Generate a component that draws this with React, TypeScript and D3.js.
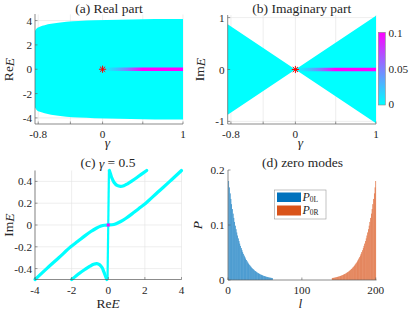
import React from "react";
import * as d3 from "d3";

// ---------- data ----------
// (a) real-part envelope (upper boundary of Re E vs gamma; lower is mirror)
const gammaA = [-0.84, -0.82, -0.78, -0.72, -0.64, -0.55, -0.45, -0.3, -0.1, 0.2, 0.5, 0.8, 1];
const reMax = [3.15, 3.35, 3.5, 3.62, 3.73, 3.82, 3.9, 3.97, 4.02, 4.07, 4.1, 4.12, 4.13];
// (b) imaginary-part envelope
const gammaB = [-0.84, 0, 1];
const imMax = [0.87, 0, 1.035];
// zero-mode line colour values along gamma
const lineGamma = [0, 0.1, 0.2, 0.3, 0.4, 0.5, 1];
const lineP = [0, 0.012, 0.03, 0.05, 0.075, 0.1, 0.1];
const cbTicks = [0, 0.05, 0.1];
const cbTickLabels = ["0", "0.05", "0.1"];
// x ticks (a), (b)
const gammaTicks = [-0.8, -0.4, 0, 0.5, 1];
const gammaTickLabels = ["-0.8", "", "0", "", "1"];
const reTicks = [-4, -2, 0, 2, 4];
const imTicksB = [-1, 0, 1];
// (c) gamma = 0.5 spectrum branches [ReE, ImE]
const mainRe = [-4.0, -3.36, -2.7, -2.05, -1.66, -1.28, -0.95, -0.655, -0.394, -0.21, 0, 0.21, 0.394, 0.655, 0.95, 1.28, 1.66, 2.05, 2.7, 3.36, 4.0];
const mainIm = [-0.5, -0.4, -0.3, -0.2, -0.15, -0.1, -0.06, -0.03, -0.01, -0.002, 0, 0.002, 0.01, 0.03, 0.06, 0.1, 0.15, 0.2, 0.3, 0.4, 0.5];
const upperRe = [0.06, 0.12, 0.2, 0.32, 0.48, 0.67, 0.85, 1.05, 1.3, 1.6, 2.1];
const upperIm = [0.5, 0.47, 0.43, 0.39, 0.363, 0.354, 0.36, 0.378, 0.405, 0.44, 0.5];
const lowerRe = [-0.08, -0.15, -0.24, -0.34, -0.48, -0.62, -0.8, -1.0, -1.25, -1.55, -2.0];
const lowerIm = [-0.5, -0.47, -0.43, -0.39, -0.363, -0.354, -0.36, -0.378, -0.405, -0.44, -0.5];
const vertRe = [-0.04, 0.04];
const vertIm = [-0.5, 0.5];
const reTicksC = [-4, -2, 0, 2, 4];
const imTicksC = [-0.4, -0.2, 0, 0.2, 0.4];
// (d) zero modes
const p0L = [0.18, 0.1684, 0.1575, 0.1474, 0.1379, 0.129, 0.1207, 0.1129, 0.1056, 0.0988, 0.0924, 0.0865, 0.0809, 0.0757, 0.0708, 0.0662, 0.062, 0.058, 0.0542, 0.0507, 0.0475, 0.0444, 0.0415, 0.0389, 0.0364, 0.034, 0.0318, 0.0298, 0.0279, 0.0261, 0.0244, 0.0228, 0.0213, 0.02, 0.0187, 0.0175, 0.0163, 0.0153, 0.0143, 0.0134, 0.0125, 0.0117, 0.011, 0.0102, 0.0096, 0.009, 0.0084, 0.0078, 0.0073, 0.0069, 0.0064, 0.006, 0.0056, 0.0053, 0.0049, 0.0046, 0.0043, 0.004, 0.0038, 0.0035];
const p0R = [0.0035, 0.0038, 0.004, 0.0043, 0.0046, 0.0049, 0.0053, 0.0056, 0.006, 0.0064, 0.0069, 0.0073, 0.0078, 0.0084, 0.009, 0.0096, 0.0102, 0.011, 0.0117, 0.0125, 0.0134, 0.0143, 0.0153, 0.0163, 0.0175, 0.0187, 0.02, 0.0213, 0.0228, 0.0244, 0.0261, 0.0279, 0.0298, 0.0318, 0.034, 0.0364, 0.0389, 0.0415, 0.0444, 0.0475, 0.0507, 0.0542, 0.058, 0.062, 0.0662, 0.0708, 0.0757, 0.0809, 0.0865, 0.0924, 0.0988, 0.1056, 0.1129, 0.1207, 0.129, 0.1379, 0.1474, 0.1575, 0.1684, 0.18];
const p0LStart = 1;
const p0RStart = 141;
const lTicks = [0, 100, 200];
const pTicks = [0, 0.1, 0.2];
const pTickLabels = ["0", "0.1", "0.2"];

// ---------- styles ----------
const FONT = "'Liberation Serif', 'Times New Roman', serif";
const AXIS = "#5a5a5a";
const GRID = "#e3e3e3";
const CYAN = "#00ffff";
const BLUE = "#0072BD";
const ORANGE = "#D95319";
const TICK = 11.2;
const TITLE = 13.5;
const LABEL = 13.5;
const TL = 2.5;

const cool = d3.scaleLinear<string>().domain([0, 0.1]).range(["#00ffff", "#ff00ff"]).clamp(true);

export default function App() {
  // scales
  const xA = d3.scaleLinear().domain([-0.84, 1]).range([35, 183]);
  const yA = d3.scaleLinear().domain([-4.5, 4.5]).range([124, 14.5]);
  const xB = d3.scaleLinear().domain([-0.84, 1]).range([227.7, 376]);
  const yB = d3.scaleLinear().domain([-1.05, 1.05]).range([124, 15]);
  const xC = d3.scaleLinear().domain([-4, 4]).range([35, 181.5]);
  const yC = d3.scaleLinear().domain([-0.5, 0.5]).range([279.5, 170.5]);
  const xD = d3.scaleLinear().domain([0, 201]).range([228, 376.5]);
  const yD = d3.scaleLinear().domain([0, 0.2]).range([280, 170]);
  const yCb = d3.scaleLinear().domain([0, 0.1]).range([104, 33]);

  const areaA = d3
    .area<number>()
    .x((_, i) => xA(gammaA[i]))
    .y0((_, i) => yA(-reMax[i]))
    .y1((_, i) => yA(reMax[i]))
    .curve(d3.curveMonotoneX);
  const areaB = d3
    .area<number>()
    .x((_, i) => xB(gammaB[i]))
    .y0((_, i) => yB(-imMax[i]))
    .y1((_, i) => yB(imMax[i]));

  const lineXY = (xs: number[], ys: number[]) =>
    d3
      .line<number>()
      .x((_, i) => xC(xs[i]))
      .y((_, i) => yC(ys[i]))
      .curve(d3.curveCatmullRom)(xs) || "";

  const star = (cx: number, cy: number, r = 3.6) => {
    const d = r * 0.72;
    return `M${cx - r},${cy}H${cx + r}M${cx},${cy - r}V${cy + r}M${cx - d},${cy - d}L${cx + d},${cy + d}M${cx - d},${cy + d}L${cx + d},${cy - d}`;
  };

  const gradStops = lineGamma.map((g, i) => ({ off: g, col: cool(lineP[i]) }));

  const text = (x: number, y: number, s: React.ReactNode, anchor = "middle", size = TICK, extra: any = {}) => (
    <text x={x} y={y} textAnchor={anchor} dominantBaseline="central" fontSize={size} fontFamily={FONT} fill="#262626" {...extra}>
      {s}
    </text>
  );

  return (
    <svg width={412} height={310} style={{ position: "absolute", left: 0, top: 0, background: "#fff", fontFamily: FONT }}>
      <defs>
        <linearGradient id="zA" gradientUnits="userSpaceOnUse" x1={xA(0)} x2={xA(1)} y1={0} y2={0}>
          {gradStops.map((s, i) => (
            <stop key={i} offset={s.off} stopColor={s.col} />
          ))}
        </linearGradient>
        <linearGradient id="zB" gradientUnits="userSpaceOnUse" x1={xB(0)} x2={xB(1)} y1={0} y2={0}>
          {gradStops.map((s, i) => (
            <stop key={i} offset={s.off} stopColor={s.col} />
          ))}
        </linearGradient>
        <linearGradient id="cb" x1={0} x2={0} y1={1} y2={0}>
          <stop offset={0} stopColor={cool(0)} />
          <stop offset={0.5} stopColor={cool(0.05)} />
          <stop offset={1} stopColor={cool(0.1)} />
        </linearGradient>
      </defs>

      {/* ===== Panel (a) ===== */}
      {gammaTicks.map((t, i) => (
        <line key={"ag" + i} x1={xA(t)} x2={xA(t)} y1={yA(4.5)} y2={yA(-4.5)} stroke={GRID} strokeWidth={0.6} />
      ))}
      {reTicks.map((t, i) => (
        <line key={"agy" + i} x1={xA(-0.84)} x2={xA(1)} y1={yA(t)} y2={yA(t)} stroke={GRID} strokeWidth={0.6} />
      ))}
      <path d={areaA(gammaA) || ""} fill={CYAN} />
      <line x1={xA(0)} x2={xA(1)} y1={yA(0)} y2={yA(0)} stroke="url(#zA)" strokeWidth={3.6} />
      <path d={star(xA(0), yA(0))} stroke="#ff0000" strokeWidth={1} fill="none" />
      <line x1={35} x2={183} y1={124} y2={124} stroke={AXIS} strokeWidth={0.7} />
      <line x1={35} x2={35} y1={14} y2={124} stroke={AXIS} strokeWidth={0.7} />
      {gammaTicks.map((t, i) => (
        <g key={"at" + i}>
          <line x1={xA(t)} x2={xA(t)} y1={124} y2={124 - TL} stroke={AXIS} strokeWidth={0.6} />
          {gammaTickLabels[i] && text(xA(t), 134, gammaTickLabels[i])}
        </g>
      ))}
      {reTicks.map((t, i) => (
        <g key={"ay" + i}>
          <line x1={35} x2={35 + TL} y1={yA(t)} y2={yA(t)} stroke={AXIS} strokeWidth={0.6} />
          {text(32, yA(t), String(t), "end")}
        </g>
      ))}
      {text(109, 8, "(a) Real part", "middle", TITLE)}
      {text(107.5, 146.5, <tspan fontStyle="italic">γ</tspan>, "middle", LABEL, { dominantBaseline: "alphabetic" })}
      {text(8.5, 69.5, <>Re<tspan fontStyle="italic">E</tspan></>, "middle", LABEL, { transform: "rotate(-90 8.5 69.5)" })}

      {/* ===== Panel (b) ===== */}
      {gammaTicks.map((t, i) => (
        <line key={"bg" + i} x1={xB(t)} x2={xB(t)} y1={15} y2={124} stroke={GRID} strokeWidth={0.6} />
      ))}
      {imTicksB.map((t, i) => (
        <line key={"bgy" + i} x1={227.7} x2={376} y1={yB(t)} y2={yB(t)} stroke={GRID} strokeWidth={0.6} />
      ))}
      <path d={areaB(gammaB) || ""} fill={CYAN} />
      <line x1={xB(0)} x2={xB(1)} y1={yB(0)} y2={yB(0)} stroke="url(#zB)" strokeWidth={3.4} />
      <path d={star(xB(0), yB(0))} stroke="#ff0000" strokeWidth={1} fill="none" />
      <line x1={227.7} x2={376} y1={124} y2={124} stroke={AXIS} strokeWidth={0.7} />
      <line x1={227.7} x2={227.7} y1={15} y2={124} stroke={AXIS} strokeWidth={0.7} />
      {gammaTicks.map((t, i) => (
        <g key={"bt" + i}>
          <line x1={xB(t)} x2={xB(t)} y1={124} y2={124 - TL} stroke={AXIS} strokeWidth={0.6} />
          {gammaTickLabels[i] && text(xB(t), 134, gammaTickLabels[i])}
        </g>
      ))}
      {imTicksB.map((t, i) => (
        <g key={"by" + i}>
          <line x1={227.7} x2={227.7 + TL} y1={yB(t)} y2={yB(t)} stroke={AXIS} strokeWidth={0.6} />
          {text(224.5, yB(t), String(t), "end")}
        </g>
      ))}
      {text(301.8, 8, "(b) Imaginary part", "middle", TITLE)}
      {text(300.5, 146.5, <tspan fontStyle="italic">γ</tspan>, "middle", LABEL, { dominantBaseline: "alphabetic" })}
      {text(199.5, 69.5, <>Im<tspan fontStyle="italic">E</tspan></>, "middle", LABEL, { transform: "rotate(-90 199.5 69.5)" })}
      {/* colorbar */}
      <rect x={378.3} y={32.3} width={7} height={72.7} fill="url(#cb)" stroke="#8a8a8a" strokeWidth={0.6} />
      {cbTicks.map((t, i) => (
        <g key={"cb" + i}>{text(388.5, yCb(t), cbTickLabels[i], "start")}</g>
      ))}

      {/* ===== Panel (c) ===== */}
      {reTicksC.map((t, i) => (
        <line key={"cg" + i} x1={xC(t)} x2={xC(t)} y1={170.5} y2={279.5} stroke={GRID} strokeWidth={0.6} />
      ))}
      {imTicksC.map((t, i) => (
        <line key={"cgy" + i} x1={35} x2={181.5} y1={yC(t)} y2={yC(t)} stroke={GRID} strokeWidth={0.6} />
      ))}
      <path d={lineXY(vertRe, vertIm)} stroke={CYAN} strokeWidth={2.2} fill="none" />
      <path d={lineXY(mainRe, mainIm)} stroke={CYAN} strokeWidth={3.2} fill="none" strokeLinecap="round" />
      <path d={lineXY(upperRe, upperIm)} stroke={CYAN} strokeWidth={3.2} fill="none" strokeLinecap="round" />
      <path d={lineXY(lowerRe, lowerIm)} stroke={CYAN} strokeWidth={3.2} fill="none" strokeLinecap="round" />
      <rect x={xC(0) - 1.5} y={yC(0) - 1.5} width={3} height={3} fill="#ff00ff" />
      <line x1={35} x2={181.5} y1={279.5} y2={279.5} stroke={AXIS} strokeWidth={0.7} />
      <line x1={35} x2={35} y1={170.5} y2={279.5} stroke={AXIS} strokeWidth={0.7} />
      {reTicksC.map((t, i) => (
        <g key={"ct" + i}>
          <line x1={xC(t)} x2={xC(t)} y1={279.5} y2={279.5 - TL} stroke={AXIS} strokeWidth={0.6} />
          {text(xC(t), 289.5, String(t))}
        </g>
      ))}
      {imTicksC.map((t, i) => (
        <g key={"cy" + i}>
          <line x1={35} x2={35 + TL} y1={yC(t)} y2={yC(t)} stroke={AXIS} strokeWidth={0.6} />
          {text(32, yC(t), String(t), "end")}
        </g>
      ))}
      {text(108, 162.5, <>(c) <tspan fontStyle="italic">γ</tspan> = 0.5</>, "middle", TITLE)}
      {text(108, 307.5, <>Re<tspan fontStyle="italic">E</tspan></>, "middle", LABEL, { dominantBaseline: "alphabetic" })}
      {text(8.5, 225, <>Im<tspan fontStyle="italic">E</tspan></>, "middle", LABEL, { transform: "rotate(-90 8.5 225)" })}

      {/* ===== Panel (d) ===== */}
      {p0L.map((v, i) => {
        const l = p0LStart + i;
        return <rect key={"pl" + i} x={xD(l) - 0.3} width={0.6} y={yD(v)} height={yD(0) - yD(v)} fill={BLUE} />;
      })}
      {p0R.map((v, i) => {
        const l = p0RStart + i;
        return <rect key={"pr" + i} x={xD(l) - 0.3} width={0.6} y={yD(v)} height={yD(0) - yD(v)} fill={ORANGE} />;
      })}
      <line x1={228} x2={376.5} y1={280} y2={280} stroke={AXIS} strokeWidth={0.7} />
      <line x1={228} x2={228} y1={170} y2={280} stroke={AXIS} strokeWidth={0.7} />
      {lTicks.map((t, i) => (
        <g key={"dt" + i}>
          <line x1={xD(t)} x2={xD(t)} y1={280} y2={280 - TL} stroke={AXIS} strokeWidth={0.6} />
          {text(xD(t), 289.5, String(t))}
        </g>
      ))}
      {pTicks.map((t, i) => (
        <g key={"dy" + i}>
          <line x1={228} x2={228 + TL} y1={yD(t)} y2={yD(t)} stroke={AXIS} strokeWidth={0.6} />
          {text(224.5, yD(t), pTickLabels[i], "end")}
        </g>
      ))}
      {/* legend */}
      <rect x={274.3} y={190} width={51.7} height={29} fill="#fff" stroke="#9a9a9a" strokeWidth={0.6} />
      <rect x={277} y={192.5} width={24} height={9.5} fill={BLUE} />
      <rect x={277} y={205.5} width={24} height={10} fill={ORANGE} />
      {text(302.5, 196.5, <><tspan fontStyle="italic">P</tspan><tspan fontSize={7.5} dy={2}>0L</tspan></>, "start", 12)}
      {text(302.5, 209.5, <><tspan fontStyle="italic">P</tspan><tspan fontSize={7.5} dy={2}>0R</tspan></>, "start", 12)}
      {text(302.5, 162.5, "(d) zero modes", "middle", TITLE)}
      {text(300.5, 307.5, <tspan fontStyle="italic">l</tspan>, "middle", LABEL, { dominantBaseline: "alphabetic" })}
      {text(197, 225, <tspan fontStyle="italic">P</tspan>, "middle", LABEL, { transform: "rotate(-90 197 225)" })}
    </svg>
  );
}
